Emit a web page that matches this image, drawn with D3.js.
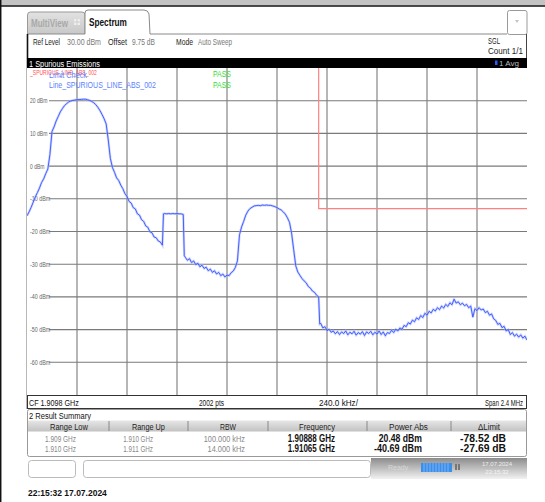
<!DOCTYPE html>
<html><head><meta charset="utf-8">
<script src="https://cdn.jsdelivr.net/npm/d3@7"></script>
<style>body{margin:0;background:#fff}svg{display:block}text{font-family:'Liberation Sans',Arial,sans-serif}</style>
</head><body><svg id="c" width="545" height="502"></svg>
<script>
// ---- data ----
const freqMHz = [
1908.60,1908.61,1908.62,1908.63,1908.64,1908.65,1908.66,1908.67,1908.68,1908.69,
1908.70,1908.71,1908.72,1908.73,1908.74,1908.75,1908.76,1908.77,1908.78,1908.79,
1908.80,1908.81,1908.82,1908.83,1908.84,1908.85,1908.86,1908.87,1908.88,1908.89,
1908.90,1908.91,1908.92,1908.93,1908.94,1908.95,1908.96,1908.97,1908.98,1908.99,
1909.00,1909.01,1909.02,1909.03,1909.04,1909.05,1909.06,1909.07,1909.08,1909.09,
1909.10,1909.11,1909.12,1909.13,1909.14,1909.15,1909.16,1909.17,1909.18,1909.19,
1909.20,1909.21,1909.22,1909.23,1909.24,1909.25,1909.255,1909.26,1909.27,1909.28,1909.29,
1909.30,1909.31,1909.32,1909.33,1909.34,1909.35,1909.355,1909.36,1909.37,1909.38,1909.39,
1909.40,1909.41,1909.42,1909.43,1909.44,1909.45,1909.46,1909.47,1909.48,1909.49,
1909.50,1909.51,1909.52,1909.53,1909.54,1909.55,1909.56,1909.57,1909.58,1909.59,
1909.60,1909.61,1909.62,1909.63,1909.64,1909.65,1909.66,1909.67,1909.68,1909.69,
1909.70,1909.71,1909.72,1909.73,1909.74,1909.75,1909.76,1909.77,1909.78,1909.79,
1909.80,1909.81,1909.82,1909.83,1909.84,1909.85,1909.86,1909.87,1909.88,1909.89,
1909.90,1909.91,1909.92,1909.93,1909.94,1909.95,1909.96,1909.97,1909.98,1909.99,
1910.00,1910.005,1910.01,1910.02,1910.03,1910.04,1910.05,1910.06,1910.07,1910.08,1910.09,
1910.10,1910.11,1910.12,1910.13,1910.14,1910.15,1910.16,1910.17,1910.18,1910.19,
1910.20,1910.21,1910.22,1910.23,1910.24,1910.25,1910.26,1910.27,1910.28,1910.29,
1910.30,1910.31,1910.32,1910.33,1910.34,1910.35,1910.36,1910.37,1910.38,1910.39,
1910.40,1910.41,1910.42,1910.43,1910.44,1910.45,1910.46,1910.47,1910.48,1910.49,
1910.50,1910.51,1910.52,1910.53,1910.54,1910.55,1910.56,1910.57,1910.58,1910.59,
1910.60,1910.61,1910.62,1910.63,1910.64,1910.65,1910.66,1910.67,1910.68,1910.69,
1910.70,1910.71,1910.72,1910.73,1910.74,1910.75,1910.76,1910.77,1910.78,1910.79,
1910.80,1910.81,1910.82,1910.83,1910.84,1910.85,1910.86,1910.87,1910.88,1910.89,
1910.90,1910.91,1910.92,1910.93,1910.94,1910.95,1910.96,1910.97,1910.98,1910.99,
1911.00];
const levelDbm = [
-15.2,-14.0,-12.6,-11.0,-9.4,-8.1,-6.7,-5.0,-3.9,-2.3,
-0.9,3.5,10.6,12.0,13.8,15.2,16.6,17.6,18.5,19.1,
19.6,19.9,20.1,20.2,20.3,20.35,20.4,20.45,20.48,20.3,
20.1,19.8,19.4,18.8,18.0,17.0,15.8,14.5,12.9,8.0,
2.4,-0.4,-1.9,-3.6,-4.4,-5.8,-6.9,-8.4,-9.3,-10.8,
-11.3,-12.7,-13.1,-14.6,-15.0,-16.4,-16.9,-18.3,-18.7,-20.1,
-20.4,-21.7,-21.9,-22.9,-23.2,-24.2,-14.6,-14.5,-14.6,-14.5,-14.6,
-14.5,-14.6,-14.5,-14.6,-14.6,-14.8,-27.4,-27.9,-28.8,-28.3,-29.5,
-29.0,-30.1,-29.7,-30.8,-30.3,-31.3,-30.9,-32.0,-31.5,-32.5,
-32.0,-33.0,-32.5,-33.5,-33.0,-33.9,-33.3,-33.5,-32.6,-32.1,
-31.0,-29.0,-21.0,-18.6,-16.9,-15.0,-13.8,-13.0,-12.6,-12.2,
-12.1,-12.0,-12.1,-11.9,-12.0,-11.9,-12.0,-12.0,-12.2,-12.4,
-12.7,-13.1,-13.4,-14.0,-14.7,-15.8,-17.2,-20.5,-25.5,-30.5,
-32.4,-33.4,-34.4,-35.1,-35.7,-36.8,-37.3,-38.2,-38.6,-39.5,
-40.0,-48.3,-48.1,-49.5,-49.1,-50.3,-49.9,-50.8,-50.4,-51.3,-50.6,
-51.5,-50.7,-51.2,-50.4,-51.6,-50.8,-51.3,-50.5,-51.7,-50.9,
-51.4,-50.6,-51.8,-50.7,-51.2,-50.5,-51.6,-50.8,-51.4,-50.4,
-51.5,-50.7,-51.9,-50.9,-51.2,-50.2,-50.9,-49.9,-50.4,-49.5,
-49.9,-48.7,-49.1,-47.9,-48.3,-47.1,-47.6,-46.4,-46.9,-45.7,
-46.3,-45.0,-45.6,-44.4,-44.9,-43.8,-44.3,-43.3,-43.9,-42.8,
-43.4,-42.3,-42.9,-41.8,-42.4,-40.69,-41.9,-41.5,-42.4,-41.9,
-42.7,-42.3,-43.3,-42.8,-46.2,-43.6,-44.2,-43.3,-44.0,-43.7,
-44.8,-44.4,-45.6,-45.2,-46.7,-47.2,-48.4,-48.1,-49.4,-49.0,
-50.4,-50.0,-51.5,-50.9,-52.0,-51.4,-52.3,-51.6,-52.6,-52.0,
-53.2];
const limitFreqMHz = [1909.0, 1910.0, 1910.0, 1911.0];
const limitDbm = [99, 99, -13, -13];
const yTickValues = [20, 10, 0, -10, -20, -30, -40, -50, -60];
const yTickLabels = ["20 dBm","10 dBm","0 dBm","-10 dBm","-20 dBm","-30 dBm","-40 dBm","-50 dBm","-60 dBm"];
const xGridMHz = [1908.84,1909.08,1909.32,1909.56,1909.80,1910.04,1910.28,1910.52,1910.76];
const tableHeaders = ["Range Low","Range Up","RBW","Frequency","Power Abs","\u0394Limit"];
const rangeLow = ["1.909 GHz","1.910 GHz"];
const rangeUp = ["1.910 GHz","1.911 GHz"];
const rbw = ["100.000 kHz","14.000 kHz"];
const peakFreq = ["1.90888 GHz","1.91065 GHz"];
const powerAbs = ["20.48 dBm","-40.69 dBm"];
const deltaLimit = ["-78.52 dB","-27.69 dB"];

// ---- layout ----
const svg = d3.select("#c");
const PL = 27, PR = 527, PT = 68, PB = 395;
const x = d3.scaleLinear().domain([1908.6, 1911.0]).range([PL, PR]);
const y = d3.scaleLinear().domain([-70, 30]).range([PB, PT]);
const defs = svg.append("defs");

// text helper: w = target width, reached by a horizontal scale (condensed look)
function txt(g,xx,yy,s,opt,w){
  const t=g.append("text").text(s);
  if(opt)for(const k in opt)t.attr(k,opt[k]);
  if(w){
    const len = t.node().getComputedTextLength() || w;
    t.attr("x",0).attr("y",0).attr("transform",`translate(${xx},${yy}) scale(${w/len},1)`);
  } else {
    t.attr("x",xx).attr("y",yy);
  }
  return t;
}

// top chrome
svg.append("rect").attr("x",0).attr("y",0).attr("width",545).attr("height",5.5).attr("fill","#c3c3c3");
svg.append("line").attr("x1",0).attr("x2",545).attr("y1",6).attr("y2",6).attr("stroke","#111").attr("stroke-width",1.5);
svg.append("line").attr("x1",0.7).attr("x2",0.7).attr("y1",0).attr("y2",502).attr("stroke","#111").attr("stroke-width",1.5);

// tabs
const tg = defs.append("linearGradient").attr("id","tg").attr("x1",0).attr("x2",0).attr("y1",0).attr("y2",1);
tg.append("stop").attr("offset",0).attr("stop-color","#e2e2e2");
tg.append("stop").attr("offset",1).attr("stop-color","#c8c8c8");
svg.append("path").attr("d","M27.5,34 L27.5,15 Q27.5,12 30.5,12 L82,12 Q85,12 85,15 L85,34")
  .attr("fill","url(#tg)").attr("stroke","#9a9a9a");
txt(svg,31,26.5,"MultiView",{"font-size":10,"font-weight":"bold",fill:"#a8a8a8"},37);
svg.append("rect").attr("x",74).attr("y",19).attr("width",6).attr("height",6).attr("fill","#eee");
svg.append("line").attr("x1",77).attr("x2",77).attr("y1",19).attr("y2",25).attr("stroke","#c8c8c8").attr("stroke-width",0.8);
svg.append("line").attr("x1",74).attr("x2",80).attr("y1",22).attr("y2",22).attr("stroke","#c8c8c8").attr("stroke-width",0.8);
svg.append("path").attr("d","M27.5,34 L85,34 L85,13 Q85,10 88,10 L144,10 Q148,10 149,14 L150,34 L507,34")
  .attr("fill","#fff").attr("stroke","#8a8a8a");
txt(svg,89,25.5,"Spectrum",{"font-size":10.5,"font-weight":"bold",fill:"#111"},38);
svg.append("rect").attr("x",507.5).attr("y",10.5).attr("width",19.5).attr("height",24).attr("rx",2).attr("fill","#fff").attr("stroke","#9a9a9a");
svg.append("path").attr("d","M515,20 L519,20 L517,23 Z").attr("fill","#c4c4c4");

// panel borders
svg.append("line").attr("x1",27.5).attr("x2",27.5).attr("y1",34).attr("y2",409).attr("stroke","#111").attr("stroke-width",1.6);
svg.append("line").attr("x1",526.5).attr("x2",526.5).attr("y1",34).attr("y2",409).attr("stroke","#444").attr("stroke-width",1);

// header info
const hdr = svg.append("g").attr("font-size",9.5);
txt(hdr,33,44.5,"Ref Level",{fill:"#222"},27);
txt(hdr,67,44.5,"30.00 dBm",{fill:"#777"},34);
txt(hdr,108,44.5,"Offset",{fill:"#222"},19);
txt(hdr,132,44.5,"9.75 dB",{fill:"#777"},23);
txt(hdr,176,44.5,"Mode",{fill:"#222"},17);
txt(hdr,198,44.5,"Auto Sweep",{fill:"#777"},34);
txt(hdr,488,43.5,"SGL",{fill:"#222"},12);
txt(hdr,488,54,"Count 1/1",{fill:"#222"},35);

// title bar
svg.append("rect").attr("x",27).attr("y",58).attr("width",500).attr("height",10).attr("fill","#000");
txt(svg,29,66.5,"1 Spurious Emissions",{fill:"#fff","font-size":9.5},71);
svg.append("rect").attr("x",495).attr("y",60.5).attr("width",2.5).attr("height",4.5).attr("fill","#2a5cff");
txt(svg,499,66,"1 Avg",{fill:"#bbb","font-size":8},20);

// plot
const plot = svg.append("g");
plot.append("rect").attr("x",PL).attr("y",PT).attr("width",PR-PL).attr("height",PB-PT).attr("fill","#fff");
plot.selectAll("line.vg").data(xGridMHz).join("line").attr("class","vg")
  .attr("x1",d=>x(d)).attr("x2",d=>x(d)).attr("y1",PT).attr("y2",PB)
  .attr("stroke","#7a7a7a").attr("stroke-width",1.1);
plot.selectAll("line.hg").data(yTickValues).join("line").attr("class","hg")
  .attr("x1",PL+22).attr("x2",PR).attr("y1",d=>y(d)).attr("y2",d=>y(d))
  .attr("stroke","#7a7a7a").attr("stroke-width",1.1);
yTickValues.forEach((v,i)=>txt(plot,PL+3,y(v)+2.4,yTickLabels[i],{"font-size":6.5,fill:"#666"},yTickLabels[i].length*2.9));

svg.append("clipPath").attr("id","pc").append("rect").attr("x",PL).attr("y",PT).attr("width",PR-PL).attr("height",PB-PT);

// limit line
const limitPts = limitFreqMHz.map((f,i)=>[f,limitDbm[i]]);
svg.append("path").attr("clip-path","url(#pc)").attr("d",d3.line().x(d=>x(d[0])).y(d=>y(d[1]))(limitPts))
  .attr("fill","none").attr("stroke","#ff8080").attr("stroke-width",1.2);

// trace
const pts = freqMHz.map((f,i)=>[f,levelDbm[i]]);
const ln = d3.line().x(d=>x(d[0])).y(d=>y(d[1]));
svg.append("path").attr("clip-path","url(#pc)").attr("d",ln(pts)).attr("fill","none")
  .attr("stroke","#a4b2ff").attr("stroke-width",2.4).attr("opacity",0.55);
svg.append("path").attr("clip-path","url(#pc)").attr("d",ln(pts)).attr("fill","none")
  .attr("stroke","#3552ff").attr("stroke-width",0.9);

// legend texts (red and blue labels overlap in the original as well)
txt(svg,30,74.5,"_SPURIOUS_LINE_ABS_002",{fill:"#ff5050","font-size":7},67);
txt(svg,49,77.5,"Limit Check",{fill:"#5a82ff","font-size":9},38);
txt(svg,49,88,"Line_SPURIOUS_LINE_ABS_002",{fill:"#5a82ff","font-size":9},107);
txt(svg,213,77,"PASS",{fill:"#33dd33","font-size":9},18);
txt(svg,213,88,"PASS",{fill:"#33dd33","font-size":9},18);

// footer row
svg.append("rect").attr("x",27.5).attr("y",395.5).attr("width",499).attr("height",13).attr("fill","#fff").attr("stroke","#333");
const ft = svg.append("g").attr("font-size",9.5).attr("fill","#111");
txt(ft,29,405.5,"CF 1.9098 GHz",{},50);
txt(ft,199,405.5,"2002 pts",{},25);
txt(ft,319,405.5,"240.0 kHz/",{},39);
txt(ft,485,405.5,"Span 2.4 MHz",{},38);

// result summary
svg.append("rect").attr("x",27.5).attr("y",409.5).attr("width",499).attr("height",47).attr("rx",2).attr("fill","#fff").attr("stroke","#999");
txt(svg,29,418.5,"2 Result Summary",{"font-size":9.5,fill:"#111"},62);
const gr = defs.append("linearGradient").attr("id","hg").attr("x1",0).attr("x2",0).attr("y1",0).attr("y2",1);
gr.append("stop").attr("offset",0).attr("stop-color","#e6e6e6");
gr.append("stop").attr("offset",1).attr("stop-color","#c2c2c2");
svg.append("rect").attr("x",28).attr("y",420.5).attr("width",498).attr("height",11).attr("fill","url(#hg)");
const colSep = [109,188,268,367,451];
svg.selectAll("line.cs").data(colSep).join("line").attr("class","cs")
  .attr("x1",d=>d).attr("x2",d=>d).attr("y1",421).attr("y2",431).attr("stroke","#888");
const hdrLeft = [50,132,220,299,389,478];
const hdrW = [38,33,16,36,39,22];
tableHeaders.forEach((h,i)=>txt(svg,hdrLeft[i],429.8,h,{"font-size":9.5,fill:"#222"},hdrW[i]));
const cols = [rangeLow, rangeUp, rbw, peakFreq, powerAbs, deltaLimit];
const colRight = [76,153,245,335,422,506];
const charW = [3.45,3.3,3.75,4.3,4.8,5.1];
cols.forEach((col,ci)=>{
  col.forEach((v,ri)=>{
    const bold = ci>=3;
    txt(svg,colRight[ci],441.5+ri*10.5,v,{"text-anchor":"end","font-size":bold?10.5:8.5,
      "font-weight":bold?"bold":"normal",fill:bold?"#111":"#888"}, v.length*charW[ci]);
  });
});

// status bar
svg.append("rect").attr("x",28.5).attr("y",460.5).attr("width",47).attr("height",17).attr("rx",3).attr("fill","#fff").attr("stroke","#bbb");
svg.append("rect").attr("x",83.5).attr("y",460.5).attr("width",287).attr("height",17).attr("rx",3).attr("fill","#fff").attr("stroke","#bbb");
const sg = defs.append("linearGradient").attr("id","sg").attr("x1",0).attr("x2",0).attr("y1",0).attr("y2",1);
sg.append("stop").attr("offset",0).attr("stop-color","#8c8c8c");
sg.append("stop").attr("offset",1).attr("stop-color","#f2f2f2");
svg.append("rect").attr("x",371).attr("y",458).attr("width",156).attr("height",21).attr("fill","url(#sg)");
txt(svg,388,470,"Ready",{"font-size":7,fill:"#d8d8d8"});
svg.append("rect").attr("x",421).attr("y",463).attr("width",31).attr("height",9).attr("fill","#3d8ee8");
svg.selectAll("line.pb").data([424,427,430,433,436,439,442,445,448]).join("line").attr("class","pb")
  .attr("x1",d=>d).attr("x2",d=>d).attr("y1",463).attr("y2",472).attr("stroke","#a8d0ff").attr("stroke-width",0.6);
svg.append("rect").attr("x",455).attr("y",464).attr("width",2).attr("height",6).attr("fill","#777");
svg.append("rect").attr("x",458).attr("y",464).attr("width",2).attr("height",6).attr("fill","#777");
txt(svg,497,466,"17.07.2024",{"font-size":6,fill:"#eee","text-anchor":"middle"});
txt(svg,497,474,"22:15:32",{"font-size":6,fill:"#f4f4f4","text-anchor":"middle"});

// timestamp
txt(svg,28,496,"22:15:32  17.07.2024",{"font-size":9.5,"font-weight":"bold",fill:"#111"},79);
</script></body></html>
